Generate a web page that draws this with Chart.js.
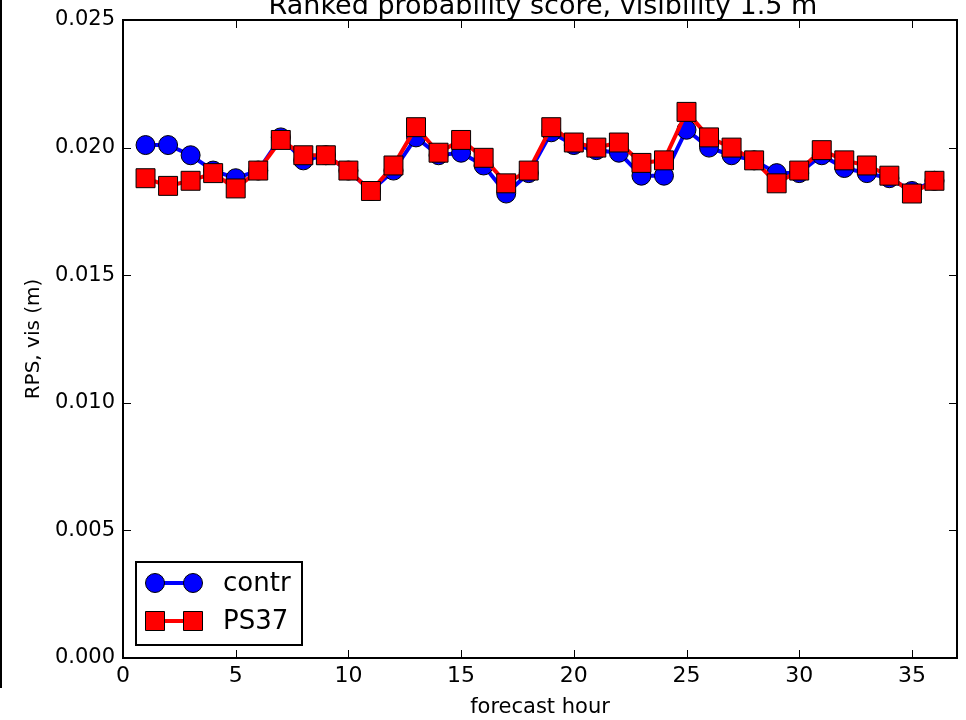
<!DOCTYPE html>
<html>
<head>
<meta charset="utf-8">
<title>Ranked probability score, visibility 1.5 m</title>
<script src="https://cdn.jsdelivr.net/npm/chart.js@4/dist/chart.umd.min.js"></script>
<style>
  html, body { margin: 0; padding: 0; background: #fff; }
  #wrap { position: relative; width: 966px; height: 720px; overflow: hidden; }
</style>
</head>
<body>
<div id="wrap"><canvas id="rps-chart" width="966" height="720"></canvas></div>
<script>
"use strict";

// ── data ─────────────────────────────────────────────────────────────────────
const HOURS = [1, 2, 3, 4, 5, 6, 7, 8, 9, 10, 11, 12, 13, 14, 15, 16, 17, 18,
               19, 20, 21, 22, 23, 24, 25, 26, 27, 28, 29, 30, 31, 32, 33, 34, 35, 36];

const CONTR = [0.0201, 0.0201, 0.0197, 0.0191, 0.0188, 0.0191, 0.0204, 0.0195, 0.0197,
               0.0191, 0.0183, 0.0191, 0.0204, 0.0197, 0.0198, 0.0193, 0.0182, 0.0190,
               0.0206, 0.0201, 0.0199, 0.0198, 0.0189, 0.0189, 0.0207, 0.0200, 0.0197,
               0.0195, 0.0190, 0.0190, 0.0197, 0.0192, 0.0190, 0.0188, 0.0183, 0.0187];

const PS37  = [0.0188, 0.0185, 0.0187, 0.0190, 0.0184, 0.0191, 0.0203, 0.0197, 0.0197,
               0.0191, 0.0183, 0.0193, 0.0208, 0.0198, 0.0203, 0.0196, 0.0186, 0.0191,
               0.0208, 0.0202, 0.0200, 0.0202, 0.0194, 0.0195, 0.0214, 0.0204, 0.0200,
               0.0195, 0.0186, 0.0191, 0.0199, 0.0195, 0.0193, 0.0189, 0.0182, 0.0187];

const X_TICKS = [0, 5, 10, 15, 20, 25, 30, 35];
const Y_TICKS = [0.000, 0.005, 0.010, 0.015, 0.020, 0.025];

const SERIES_NAMES = ["contr", "PS37"];
const TITLE = "Ranked probability score, visibility 1.5 m";

const FONT = "'DejaVu Sans', 'Liberation Sans', sans-serif";

function toPoints(ys) {
  return HOURS.map((h, i) => ({ x: h, y: ys[i] }));
}

// ── matplotlib-like frame, inward ticks, title, legend ───────────────────────
const framePlugin = {
  id: "frame",
  afterDraw(chart) {
    const { ctx, chartArea: a, scales } = chart;
    const tick = 8;
    ctx.save();
    ctx.strokeStyle = "#000";

    // inward tick marks on all four sides
    ctx.lineWidth = 1;
    ctx.beginPath();
    X_TICKS.forEach(v => {
      const px = Math.round(scales.x.getPixelForValue(v)) + 0.5;
      ctx.moveTo(px, a.bottom); ctx.lineTo(px, a.bottom - tick);
      ctx.moveTo(px, a.top);    ctx.lineTo(px, a.top + tick);
    });
    Y_TICKS.forEach(v => {
      const py = Math.round(scales.y.getPixelForValue(v)) + 0.5;
      ctx.moveTo(a.left, py);  ctx.lineTo(a.left + tick, py);
      ctx.moveTo(a.right, py); ctx.lineTo(a.right - tick, py);
    });
    ctx.stroke();

    // axes frame
    ctx.lineWidth = 2;
    ctx.strokeRect(a.left, a.top, a.right - a.left, a.bottom - a.top);

    // stray border line at the far left of the figure
    ctx.fillStyle = "#000";
    ctx.fillRect(0, 0, 2, 688);

    // title (top partly cut off, as in the reference)
    ctx.font = `27px ${FONT}`;
    ctx.textAlign = "center";
    ctx.textBaseline = "alphabetic";
    ctx.fillText(TITLE, (a.left + a.right) / 2 + 3, 14);

    // legend box in the lower left corner
    const bx = 136, by = 562, bw = 166, bh = 83;
    ctx.fillStyle = "#fff";
    ctx.fillRect(bx, by, bw, bh);
    ctx.lineWidth = 2;
    ctx.strokeRect(bx, by, bw, bh);

    chart.data.datasets.forEach((ds, i) => {
      const y = by + 21 + i * 38;
      const x0 = 155, x1 = 193;
      ctx.strokeStyle = ds.borderColor;
      ctx.lineWidth = 4;
      ctx.beginPath();
      ctx.moveTo(x0, y); ctx.lineTo(x1, y);
      ctx.stroke();
      ctx.fillStyle = ds.backgroundColor;
      ctx.strokeStyle = "#000";
      ctx.lineWidth = 1;
      [x0, x1].forEach(x => {
        ctx.beginPath();
        if (ds.pointStyle === "circle") ctx.arc(x, y, 9.5, 0, Math.PI * 2);
        else ctx.rect(x - 9.5, y - 9.5, 19, 19);
        ctx.fill(); ctx.stroke();
      });
      ctx.fillStyle = "#000";
      ctx.font = `26px ${FONT}`;
      ctx.textAlign = "left";
      ctx.textBaseline = "middle";
      ctx.fillText(ds.label, 223, y + 1);
    });
    ctx.restore();
  },
};

// ── chart ────────────────────────────────────────────────────────────────────
const canvas = document.getElementById("rps-chart");

new Chart(canvas, {
  type: "line",
  data: {
    datasets: [
      {
        label: SERIES_NAMES[0],
        data: toPoints(CONTR),
        borderColor: "#0000ff",
        backgroundColor: "#0000ff",
        borderWidth: 4,
        pointStyle: "circle",
        pointRadius: 9.5,
        pointBorderColor: "#000",
        pointBorderWidth: 1,
        pointBackgroundColor: "#0000ff",
        tension: 0,
        order: 2,
      },
      {
        label: SERIES_NAMES[1],
        data: toPoints(PS37),
        borderColor: "#ff0000",
        backgroundColor: "#ff0000",
        borderWidth: 4,
        pointStyle: "rect",
        pointRadius: 13.4,
        pointBorderColor: "#000",
        pointBorderWidth: 1,
        pointBackgroundColor: "#ff0000",
        tension: 0,
        order: 1,
      },
    ],
  },
  options: {
    responsive: false,
    animation: false,
    events: [],
    layout: { autoPadding: false, padding: { top: 20, right: 9, left: 0, bottom: 0 } },
    plugins: {
      legend: { display: false },
      title: { display: false },
      tooltip: { enabled: false },
    },
    scales: {
      x: {
        type: "linear",
        min: 0,
        max: 37,
        afterFit: s => { s.height = 62; s.paddingLeft = 0; s.paddingRight = 0; },
        afterBuildTicks: s => { s.ticks = X_TICKS.map(v => ({ value: v })); },
        grid: { display: false, drawTicks: false },
        border: { display: false },
        ticks: {
          color: "#000",
          padding: 5,
          maxRotation: 0,
          font: { family: FONT, size: 22 },
          callback: v => String(v),
        },
        title: {
          display: true,
          text: "forecast hour",
          color: "#000",
          padding: { top: 4, bottom: 0 },
          font: { family: FONT, size: 21 },
        },
      },
      y: {
        type: "linear",
        min: 0,
        max: 0.025,
        afterFit: s => { s.width = 123; s.paddingTop = 0; s.paddingBottom = 0; },
        afterBuildTicks: s => { s.ticks = Y_TICKS.map(v => ({ value: v })); },
        grid: { display: false, drawTicks: false },
        border: { display: false },
        ticks: {
          color: "#000",
          padding: 8,
          font: { family: FONT, size: 21 },
          callback: v => Number(v).toFixed(3),
        },
        title: {
          display: true,
          text: "RPS, vis (m)",
          color: "#000",
          padding: { top: 22, bottom: 0 },
          font: { family: FONT, size: 20 },
        },
      },
    },
  },
  plugins: [framePlugin],
});
</script>
</body>
</html>
